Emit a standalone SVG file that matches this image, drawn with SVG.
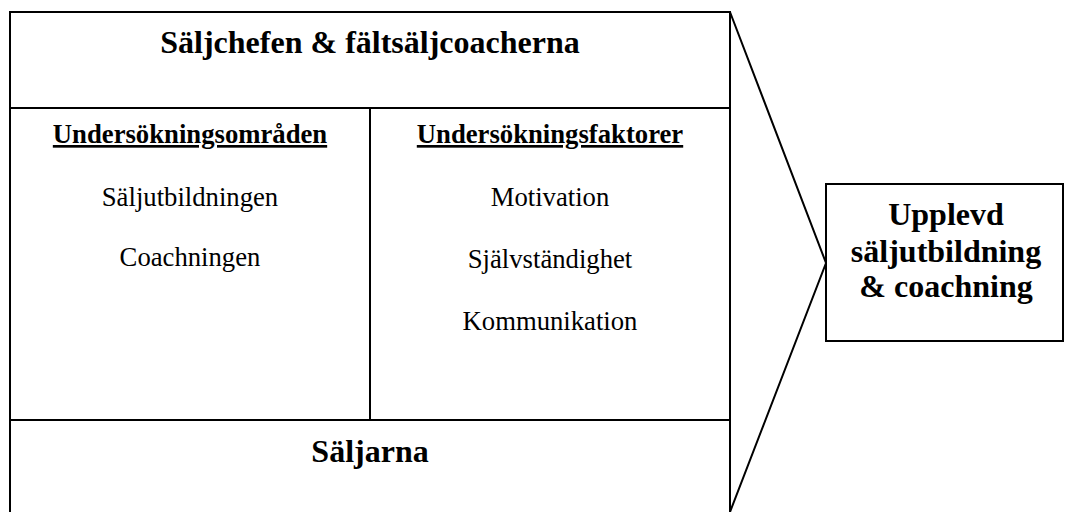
<svg xmlns="http://www.w3.org/2000/svg" width="1065" height="512" viewBox="0 0 1065 512">
<style>
.ln{fill:none;stroke:#000;stroke-width:2}
.t{font-family:"Liberation Serif","Times New Roman",serif;fill:#000;text-anchor:middle}
.b{font-weight:bold}
.h{font-size:32px}
.s{font-size:26.7px}
.r{font-size:26.7px}
.u{text-decoration:underline}
</style>
<rect width="1065" height="512" fill="#fff"/>
<g id="main">
<path class="ln" d="M10,520 V12 H730 V520"/>
<text class="t b h" x="370" y="53">Säljchefen &amp; fältsäljcoacherna</text>
</g>
<g id="omraden">
<path class="ln" d="M10,108 H730"/>
<text class="t b s u" x="190" y="143">Undersökningsområden</text>
<text class="t r" x="190" y="206">Säljutbildningen</text>
<text class="t r" x="190" y="266">Coachningen</text>
</g>
<g id="faktorer">
<path class="ln" d="M370,108 V420"/>
<text class="t b s u" x="550" y="143">Undersökningsfaktorer</text>
<text class="t r" x="550" y="206">Motivation</text>
<text class="t r" x="550" y="268">Självständighet</text>
<text class="t r" x="550" y="330">Kommunikation</text>
</g>
<g id="saljarna">
<path class="ln" d="M10,420 H730"/>
<text class="t b h" x="370" y="462">Säljarna</text>
</g>
<g id="connectors">
<path class="ln" d="M730,12 L826,263 L730,512"/>
</g>
<g id="upplevd">
<rect class="ln" x="826" y="184" width="237" height="157"/>
<text class="t b h" x="946" y="225">Upplevd</text>
<text class="t b h" x="946" y="262">säljutbildning</text>
<text class="t b h" x="946" y="297">&amp; coachning</text>
</g>
</svg>
